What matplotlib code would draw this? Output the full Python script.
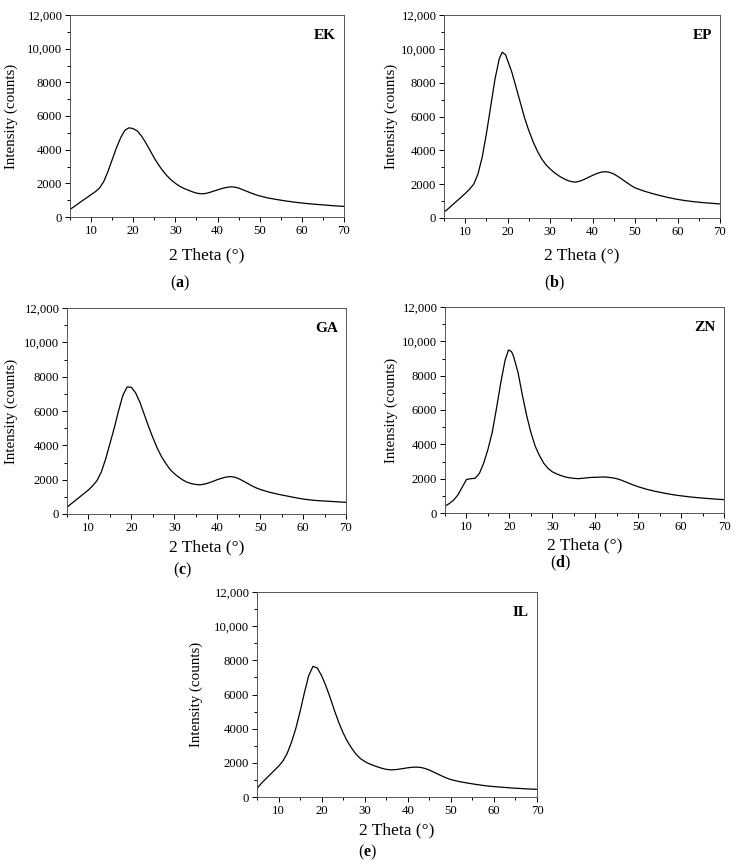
import matplotlib.pyplot as plt
from matplotlib.ticker import MultipleLocator

plt.rcParams['font.family'] = ['Liberation Serif', 'DejaVu Serif']
plt.rcParams['mathtext.fontset'] = 'custom'
plt.rcParams['mathtext.rm'] = 'Liberation Serif'
plt.rcParams['mathtext.bf'] = 'Liberation Serif:bold'

# 2 theta (deg) / intensity (counts)
theta_ek = [5, 6, 7, 8, 9, 10, 11, 12, 13, 14, 15, 16, 17, 18, 19, 20, 21, 22, 23, 24, 25,
            26, 27, 28, 29, 30, 31, 32, 33, 34, 35, 36, 37, 38, 39, 40, 41, 42, 43, 44, 45,
            46, 47, 48, 49, 50, 52, 54, 56, 58, 60, 62, 64, 66, 68, 70]
counts_ek = [450, 620, 800, 980, 1150, 1330, 1500, 1720, 2100, 2700, 3400, 4100, 4700, 5150,
             5300, 5250, 5100, 4800, 4400, 3950, 3500, 3100, 2750, 2450, 2200, 2000, 1830,
             1700, 1600, 1500, 1420, 1380, 1390, 1450, 1530, 1610, 1690, 1750, 1790, 1780,
             1720, 1620, 1520, 1420, 1330, 1250, 1130, 1040, 960, 890, 830, 780, 740, 700,
             660, 630]

theta_ep = [5, 6, 7, 8, 9, 10, 11, 12, 13, 14, 15, 16, 17, 18, 18.7, 19.5, 20, 21, 22, 23,
            24, 25, 26, 27, 28, 29, 30, 31, 32, 33, 34, 35, 36, 37, 38, 39, 40, 41, 42, 43,
            44, 45, 46, 47, 48, 49, 50, 52, 54, 56, 58, 60, 62, 64, 66, 68, 70]
counts_ep = [350, 550, 780, 1000, 1220, 1450, 1700, 2000, 2600, 3600, 5000, 6600, 8200, 9400,
             9800, 9650, 9300, 8600, 7700, 6800, 5900, 5150, 4500, 3950, 3500, 3150, 2900,
             2680, 2500, 2350, 2230, 2150, 2120, 2180, 2280, 2400, 2520, 2630, 2710, 2740,
             2700, 2600, 2450, 2280, 2100, 1930, 1780, 1600, 1450, 1320, 1200, 1100, 1020,
             960, 910, 870, 830]

theta_ga = [5, 6, 7, 8, 9, 10, 11, 12, 13, 14, 15, 16, 17, 18, 19, 20, 21, 22, 23, 24, 25,
            26, 27, 28, 29, 30, 31, 32, 33, 34, 35, 36, 37, 38, 39, 40, 41, 42, 43, 44, 45,
            46, 47, 48, 49, 50, 52, 54, 56, 58, 60, 62, 64, 66, 68, 70]
counts_ga = [400, 600, 800, 1000, 1200, 1400, 1650, 1950, 2450, 3200, 4100, 5000, 6000, 6900,
             7400, 7380, 7050, 6500, 5800, 5100, 4450, 3850, 3350, 2950, 2600, 2350, 2150,
             1980, 1850, 1770, 1720, 1700, 1740, 1810, 1900, 2000, 2080, 2150, 2180, 2150,
             2060, 1930, 1790, 1650, 1530, 1430, 1280, 1160, 1060, 960, 870, 810, 770, 740,
             710, 680]

theta_zn = [5, 6, 7, 8, 9, 10, 11, 12, 13, 14, 15, 16, 17, 18, 19, 19.8, 20.5, 21, 22, 23,
            24, 25, 26, 27, 28, 29, 30, 31, 32, 33, 34, 35, 36, 37, 38, 39, 40, 41, 42, 43,
            44, 45, 46, 47, 48, 49, 50, 52, 54, 56, 58, 60, 62, 64, 66, 68, 70]
counts_zn = [400, 550, 750, 1050, 1500, 1950, 2000, 2020, 2300, 2900, 3700, 4700, 6100, 7600,
             8900, 9500, 9400, 9100, 8200, 6900, 5700, 4700, 3900, 3350, 2900, 2600, 2400,
             2280, 2180, 2100, 2050, 2020, 2000, 2020, 2050, 2070, 2080, 2090, 2100, 2080,
             2050, 2000, 1920, 1820, 1720, 1620, 1530, 1380, 1260, 1160, 1070, 1000, 940,
             890, 850, 810, 780]

theta_il = [5, 6, 7, 8, 9, 10, 11, 12, 13, 14, 15, 16, 17, 18, 19, 20, 21, 22, 23, 24, 25,
            26, 27, 28, 29, 30, 31, 32, 33, 34, 35, 36, 37, 38, 39, 40, 41, 42, 43, 44, 45,
            46, 47, 48, 49, 50, 52, 54, 56, 58, 60, 62, 64, 66, 68, 70]
counts_il = [500, 800, 1050, 1300, 1550, 1800, 2100, 2550, 3200, 4000, 5000, 6100, 7100, 7650,
             7550, 7100, 6500, 5800, 5050, 4350, 3750, 3250, 2850, 2500, 2250, 2080, 1950,
             1850, 1760, 1680, 1620, 1590, 1600, 1630, 1670, 1710, 1740, 1750, 1730, 1670,
             1580, 1460, 1340, 1220, 1110, 1020, 900, 810, 730, 660, 610, 570, 530, 500,
             470, 450]

samples = ['EK', 'EP', 'GA', 'ZN', 'IL']
letters = ['a', 'b', 'c', 'd', 'e']
thetas = [theta_ek, theta_ep, theta_ga, theta_zn, theta_il]
counts = [counts_ek, counts_ep, counts_ga, counts_zn, counts_il]

y_ticks = [0, 2000, 4000, 6000, 8000, 10000, 12000]
y_labels = ['0', '2000', '4000', '6000', '8000', '10,000', '12,000']

W, H = 743, 866
# axes boxes in pixels: left, top, right, bottom
boxes = [(70, 15, 344, 217), (444, 15, 720, 218), (67, 308, 346, 514),
         (445, 307, 724, 513), (257, 592, 537, 797)]
# y label x, x label y, caption x, caption y (pixels)
ylab_x = [18, 398, 18, 398, 203]
xlab_y = [255, 255, 547, 545, 830]
cap_pos = [(180, 283), (554, 283), (183, 570), (560, 563), (368, 852)]

fig = plt.figure(figsize=(W / 100, H / 100), dpi=100)

for i in range(5):
    l, t, r, b = boxes[i]
    ax = fig.add_axes([l / W, 1 - b / H, (r - l) / W, (b - t) / H])
    ax.plot(thetas[i], counts[i], color='black', lw=0.9)
    ax.set_xlim(5, 70)
    ax.set_ylim(0, 12000)
    ax.set_xticks([10, 20, 30, 40, 50, 60, 70])
    ax.xaxis.set_minor_locator(MultipleLocator(5))
    ax.set_yticks(y_ticks)
    ax.set_yticklabels(y_labels)
    ax.yaxis.set_minor_locator(MultipleLocator(1000))
    ax.tick_params(which='both', direction='out', labelsize=9.2, width=0.7)
    ax.tick_params(which='major', length=3.5, pad=2)
    ax.tick_params(which='minor', length=2)
    for s in ax.spines.values():
        s.set_linewidth(0.7)
        s.set_color('#555555')
    ax.set_ylabel('Intensity (counts)', fontsize=10.8)
    ax.yaxis.set_label_coords((ylab_x[i] - l) / (r - l), 0.5)
    ax.text(0.97, 0.93, samples[i], transform=ax.transAxes, ha='right', va='top',
            fontsize=11, fontweight='bold')
    fig.text((l + r) / 2 / W, 1 - xlab_y[i] / H, '2 Theta (°)', ha='center',
             va='center', fontsize=12.5)
    cx, cy = cap_pos[i]
    fig.text(cx / W, 1 - cy / H, '(' + r'$\mathbf{' + letters[i] + '}$' + ')',
             ha='center', va='center', fontsize=11.5)

fig.savefig('out.png', dpi=100)
